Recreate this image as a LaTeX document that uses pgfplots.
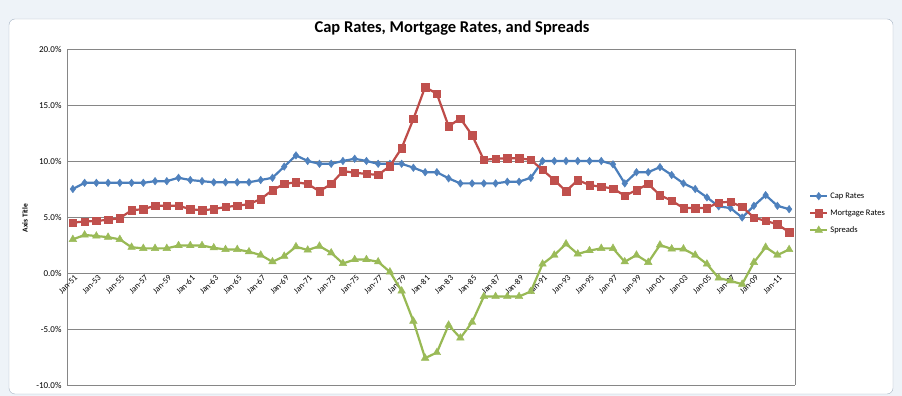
\documentclass[border=0pt]{standalone}
\usepackage{pgfplots}
\usepackage{pgfplotstable}
\pgfplotsset{compat=1.18}
\usepackage{fontspec}
\setmainfont{Carlito}
\definecolor{capblue}{HTML}{4A7EBB}
\definecolor{capfill}{HTML}{4F81BD}
\definecolor{mortred}{HTML}{BE4B48}
\definecolor{mortfill}{HTML}{C0504D}
\definecolor{sprgreen}{HTML}{98B954}
\definecolor{sprfill}{HTML}{9BBB59}
\definecolor{gridgray}{HTML}{868686}
\definecolor{bgcol}{HTML}{EEF3F8}
\definecolor{chartborder}{HTML}{A5B3C3}
\pgfplotstableread{
i cap mort spr
0 7.5 4.5 3.0
1 8.05 4.6 3.4
2 8.05 4.65 3.3
3 8.05 4.75 3.2
4 8.05 4.9 3.0
5 8.05 5.6 2.3
6 8.05 5.7 2.2
7 8.2 6.0 2.2
8 8.2 6.0 2.2
9 8.5 6.0 2.45
10 8.3 5.7 2.45
11 8.2 5.6 2.45
12 8.1 5.7 2.25
13 8.1 5.9 2.1
14 8.1 6.0 2.1
15 8.1 6.15 1.9
16 8.3 6.6 1.6
17 8.5 7.4 1.0
18 9.5 7.95 1.5
19 10.5 8.1 2.35
20 10.0 7.95 2.05
21 9.75 7.3 2.4
22 9.75 7.95 1.8
23 10.0 9.1 0.85
24 10.2 8.95 1.2
25 10.0 8.85 1.2
26 9.75 8.75 1.0
27 9.75 9.55 0.1
28 9.75 11.15 -1.6
29 9.4 13.75 -4.3
30 9.0 16.6 -7.6
31 9.0 16.0 -7.1
32 8.45 13.1 -4.65
33 8.0 13.8 -5.8
34 8.0 12.3 -4.4
35 8.0 10.1 -2.1
36 8.0 10.2 -2.1
37 8.15 10.25 -2.1
38 8.15 10.25 -2.1
39 8.5 10.1 -1.65
40 10.0 9.2 0.8
41 10.0 8.3 1.6
42 10.0 7.3 2.6
43 10.0 8.3 1.7
44 10.0 7.85 2.0
45 10.0 7.7 2.2
46 9.7 7.55 2.2
47 8.0 6.9 1.0
48 9.0 7.4 1.6
49 9.0 7.95 0.95
50 9.45 6.95 2.5
51 8.75 6.45 2.15
52 8.0 5.8 2.15
53 7.5 5.8 1.6
54 6.75 5.8 0.8
55 5.95 6.3 -0.45
56 5.8 6.35 -0.7
57 4.95 5.9 -1.0
58 6.0 4.95 0.95
59 6.95 4.65 2.3
60 6.0 4.35 1.6
61 5.7 3.65 2.1
}\data
\begin{document}
\begin{tikzpicture}[x=1pt,y=1pt]
\fill[bgcol] (0,0) rectangle (902,396);
\filldraw[fill=white, draw=chartborder, rounded corners=6pt] (9,2) rectangle (893,377);
\node[font=\fontsize{16.5}{19}\selectfont\bfseries] at (452,368) {Cap Rates, Mortgage Rates, and Spreads};
\node[rotate=90,font=\fontsize{7.5}{9}\selectfont\bfseries] at (25,178) {Axis Title};
\begin{axis}[
  at={(67pt,11pt)}, anchor=south west,
  width=728pt, height=336pt, scale only axis,
  xmin=-0.5, xmax=61.5, ymin=-10, ymax=20,
  axis x line=middle, axis y line=box,
  axis line style={gridgray, line width=0.8pt, -},
  ymajorgrids, grid style={gridgray, line width=0.8pt},
  major tick length=0pt,
  ytick={-10,-5,...,20},
  yticklabel={\pgfmathprintnumber[fixed,fixed zerofill,precision=1,assume math mode=true]{\tick}\%},
  yticklabel style={font=\fontsize{9}{10}\selectfont, xshift=-2pt},
  xtick={0,2,...,60},
  xticklabels={Jan-51,Jan-53,Jan-55,Jan-57,Jan-59,Jan-61,Jan-63,Jan-65,Jan-67,Jan-69,Jan-71,Jan-73,Jan-75,Jan-77,Jan-79,Jan-81,Jan-83,Jan-85,Jan-87,Jan-89,Jan-91,Jan-93,Jan-95,Jan-97,Jan-99,Jan-01,Jan-03,Jan-05,Jan-07,Jan-09,Jan-11},
  xticklabel style={font=\fontsize{8.5}{10}\selectfont, rotate=45, anchor=east, yshift=-5pt, xshift=3pt},
  legend style={at={(axis description cs:1.015,0.585)}, anchor=north west, draw=none, fill=none,
    font=\fontsize{8.5}{10}\selectfont, row sep=6pt},
  legend cell align=left,
  clip=false,
]
\addplot[capblue, line width=2.2pt, mark=diamond*, mark size=3.8pt, mark options={fill=capfill, draw=capfill, line width=0.4pt}] table[x=i,y=cap]{\data};
\addlegendentry{Cap Rates}
\addplot[mortred, line width=2.2pt, mark=square*, mark size=3.7pt, mark options={fill=mortfill, draw=mortfill, line width=0.4pt}] table[x=i,y=mort]{\data};
\addlegendentry{Mortgage Rates}
\addplot[sprgreen, line width=2.2pt, mark=triangle*, mark size=4.4pt, mark options={fill=sprfill, draw=sprfill, line width=0.4pt}] table[x=i,y=spr]{\data};
\addlegendentry{Spreads}
\end{axis}
\end{tikzpicture}
\end{document}
